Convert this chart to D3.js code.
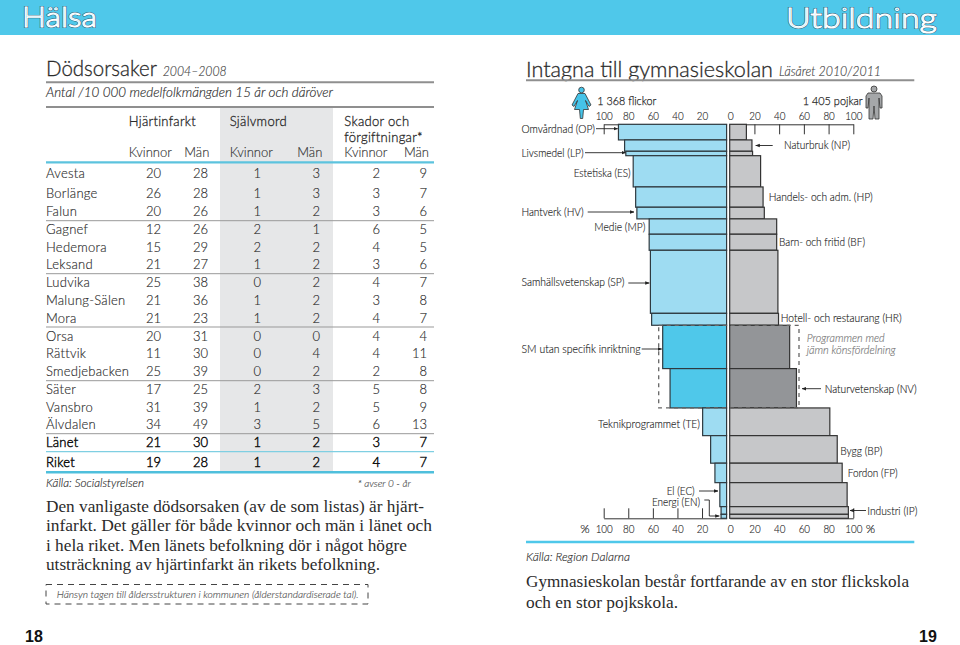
<!DOCTYPE html>
<html><head><meta charset="utf-8">
<script src="https://cdnjs.cloudflare.com/ajax/libs/d3/7.8.5/d3.min.js"></script>
<style>
html,body{margin:0;padding:0;background:#fff}
svg{display:block}
text{font-family:"Lato","Open Sans",sans-serif;fill:#2b2b2b;font-weight:300}
</style></head><body><div id="c"></div>
<script>
// ---- Table data
const rowNames = ["Avesta","Borlänge","Falun","Gagnef","Hedemora","Leksand","Ludvika","Malung-Sälen","Mora","Orsa","Rättvik","Smedjebacken","Säter","Vansbro","Älvdalen","Länet","Riket"];
const heartWomen = [20,26,20,12,15,21,25,21,21,20,11,25,17,31,34,21,19];
const heartMen   = [28,28,26,26,29,27,38,36,23,31,30,39,25,39,49,30,28];
const suicideWomen = [1,1,1,2,2,1,0,1,1,0,0,0,2,1,3,1,1];
const suicideMen   = [3,3,2,1,2,2,2,2,2,0,4,2,3,2,5,2,2];
const injuryWomen = [2,3,3,6,4,3,4,3,4,4,4,2,5,5,6,3,4];
const injuryMen   = [9,7,6,5,5,6,7,8,7,4,11,8,8,9,13,7,7];
// ---- Pyramid data: programme code, students (bar thickness), % girls, % boys
const programmes = ["OP","NP","LP","ES","HP","HV","MP","BF","SP","HR","SM","NV","TE","BP","FP","EC","IP","EN"];
const students   = [110,80,31,220,143,82,108,113,444,84,305,277,195,194,137,169,54,28];
const girlsPct   = [88,83,82,76,74,73,63,63,62,61,52,46,19.5,13,9.5,5.5,4.5,4.5];
const boysPct    = [13.5,18,18.5,25,27,28,38,38,39,39.5,48.5,54,81,87,91,95,96,96];
const balanced   = ["SM","NV"];
const axisTicks  = [20,40,60,80,100];

const W=960,H=645;
const svg=d3.select("#c").append("svg").attr("width",W).attr("height",H);
function txt(x,y,s,o={}){
  const t=svg.append("text").attr("x",x).attr("y",y).text(s)
   .style("font-size",(o.size||12)+"px");
  if(o.italic)t.style("font-style","italic");
  if(o.weight)t.style("font-weight",o.weight);
  if(o.fam)t.style("font-family",o.fam);
  if(o.fill)t.style("fill",o.fill);
  if(o.anchor)t.attr("text-anchor",o.anchor);
  if(o.ls)t.style("letter-spacing",o.ls+"px");
  if(o.len)t.attr("textLength",o.len).attr("lengthAdjust","spacingAndGlyphs");
  if(!o.fam)t.style("stroke",o.fill||"#2b2b2b").style("stroke-width",(o.ink||0.15)+"px");
  return t;
}
function rule(x1,x2,y,c,w){svg.append("line").attr("x1",x1).attr("x2",x2).attr("y1",y).attr("y2",y).attr("stroke",c).attr("stroke-width",w);}

// ---- Top band
svg.append("rect").attr("width",W).attr("height",35).attr("fill","#4fc8ea");
[["Hälsa",22,27,75],["Utbildning",786,28,151]].forEach(d=>{
  [["#2c5f78",2],["#fff",1]].forEach(s=>{
    svg.append("text").attr("x",d[1]).attr("y",d[2]).text(d[0]).attr("textLength",d[3]).attr("lengthAdjust","spacingAndGlyphs")
     .style("font-size","27px").style("font-family","Lato,sans-serif").style("font-weight",300)
     .style("fill","#4fc8ea").attr("stroke",s[0]).attr("stroke-width",s[1]);
  });
});

// ---- Left page
const lft=46,lr=434;
txt(lft,76,"Dödsorsaker",{size:21,len:111,ink:.3});
txt(162.7,76,"2004–2008",{size:13,italic:true,fill:"#444",len:64});
rule(lft,lr,82.3,"#8f8f8f",2);
txt(lft,96.5,"Antal /10 000 medelfolkmängden 15 år och däröver",{size:13.5,italic:true,len:287});
rule(lft,lr,107,"#8f8f8f",2);
const colRight=[161,208,261,320,380,427];
const rowY=d3.scaleOrdinal().domain(rowNames).range([173,193,211,229,247,264,282,300,318,336,353,371,389,407,424,442,462]);
svg.append("rect").attr("x",220).attr("y",108).attr("width",113).attr("height",364).attr("fill","#e6e7e8");
txt(128.7,126,"Hjärtinfarkt",{size:13,ls:.3,ink:.3});
txt(229.7,126,"Självmord",{size:13,ls:.3,ink:.3});
txt(344.3,126,"Skador och",{size:13,ls:.3,ink:.3});
txt(344.3,141.5,"förgiftningar*",{size:13,ls:.3,ink:.3});
[["Kvinnor",128.7],["Män",184.3],["Kvinnor",229.7],["Män",297.3],["Kvinnor",344.3],["Män",404]].forEach(d=>txt(d[1],157,d[0],{size:13,fill:"#333"}));
rule(lft,lr,162.3,"#5cc3de",2.2);
[220.7,273.7,327,380.7,433.7].forEach(y=>rule(lft,lr,y,"#999",1));
rule(lft,lr,451.7,"#7fcfe2",1.2);
rule(lft,lr,472.3,"#4fbfdc",2.4);
const cols=[heartWomen,heartMen,suicideWomen,suicideMen,injuryWomen,injuryMen];
rowNames.forEach((n,i)=>{
  const y=rowY(n)+4.5, strong=i>=15, o={size:13,fill:strong?"#111":"#2b2b2b",ink:strong?.45:.15};
  txt(lft,y,n,{...o,ls:.25});
  cols.forEach((c,j)=>txt(colRight[j],y,c[i],{...o,anchor:"end"}));
});
txt(lft,487,"Källa: Socialstyrelsen",{size:12,italic:true,len:98});
txt(357.7,487,"* avser 0 - år",{size:10,italic:true,fill:"#555",len:53});
const serif="'Liberation Serif',serif";
[["Den vanligaste dödsorsaken (av de som listas) är hjärt-",378],
 ["infarkt. Det gäller för både kvinnor och män i länet och",386],
 ["i hela riket. Men länets befolkning dör i något högre",361],
 ["utsträckning av hjärtinfarkt än rikets befolkning.",334]].forEach((d,i)=>
  txt(lft,512+i*19.3,d[0],{size:17,fam:serif,len:d[1],weight:400}));
svg.append("rect").attr("x",46).attr("y",584.5).attr("width",322).attr("height",19.5).attr("fill","none").attr("stroke","#444").attr("stroke-width",1).attr("stroke-dasharray","6 5");
txt(56.7,597.5,"Hänsyn tagen till åldersstrukturen i kommunen (ålderstandardiserade tal).",{size:10.5,italic:true,fill:"#555",len:302});
txt(25,642,"18",{size:16,weight:700,fam:"'Liberation Sans',sans-serif",fill:"#111"});
txt(919,642,"19",{size:16,weight:700,fam:"'Liberation Sans',sans-serif",fill:"#111"});

// ---- Right page
const rl=526,rr=914.3;
txt(rl,76.5,"Intagna till gymnasieskolan",{size:21,len:247,ink:.3});
txt(779,76,"Läsåret 2010/2011",{size:13,italic:true,fill:"#444",len:102});
rule(rl,rr,80.3,"#8f8f8f",2);
rule(rl,rr,542,"#4fc8ea",2.6);
txt(rl,561,"Källa: Region Dalarna",{size:12,italic:true});
txt(rl,587,"Gymnasieskolan består fortfarande av en stor flickskola",{size:17,fam:serif,len:383,weight:400});
txt(rl,608,"och en stor pojkskola.",{size:17,fam:serif,len:152,weight:400});

// ---- Pyramid
const total=d3.sum(students);
const yS=d3.scaleLinear().domain([0,total]).range([124.3,518.3]);
const xL=d3.scaleLinear().domain([0,100]).range([726.6,603.7]);
const xR=d3.scaleLinear().domain([0,100]).range([729.7,853.3]);
const cum=d3.cumsum(students);
const rows=programmes.map((p,i)=>({p,start:i?cum[i-1]:0,end:cum[i],g:girlsPct[i],b:boysPct[i]}));

function axis(gen,y,ty){
  const g=svg.append("g").attr("transform",`translate(0,${y})`).call(gen);
  g.selectAll("text").style("font-size","12px").style("fill","#222").style("font-family","Lato").style("font-weight",300)
   .style("stroke","#222").style("stroke-width","0.15px")
   .attr("y",ty).attr("dy",0).attr("lengthAdjust","spacingAndGlyphs").attr("textLength",function(){return this.textContent.length*5.7;});
  g.selectAll("line,path").attr("stroke","#333").attr("stroke-width",1);
  return g;
}
const tf=d3.format("d");
axis(d3.axisTop(xL).tickValues(axisTicks).tickFormat(tf).tickSizeInner(-10).tickSizeOuter(0),124.3,-4.3);
axis(d3.axisTop(xR).tickValues(axisTicks).tickFormat(tf).tickSizeInner(-10).tickSizeOuter(0),124.3,-4.3);
axis(d3.axisBottom(xL).tickValues(axisTicks).tickFormat(tf).tickSizeInner(-10).tickSizeOuter(0),518.3,15);
axis(d3.axisBottom(xR).tickValues(axisTicks).tickFormat(tf).tickSizeInner(-10).tickSizeOuter(0),518.3,15);
txt(730.7,120,"0",{size:12,anchor:"middle",fill:"#222",len:6});
txt(730.7,533.3,"0",{size:12,anchor:"middle",fill:"#222",len:6});
txt(585,533.3,"%",{size:12,anchor:"middle",fill:"#222"});
txt(870.5,533.3,"%",{size:12,anchor:"middle",fill:"#222"});

const isBal=d=>balanced.includes(d.p);
svg.append("g").selectAll("rect").data(rows).join("rect")
  .attr("x",d=>xL(d.g)).attr("y",d=>yS(d.start)).attr("width",d=>xL(0)-xL(d.g)).attr("height",d=>yS(d.end)-yS(d.start))
  .attr("fill",d=>isBal(d)?"#4fc8ea":"#9edcf2").attr("stroke","#2f3a40").attr("stroke-width",1.2);
svg.append("g").selectAll("rect").data(rows).join("rect")
  .attr("x",xR(0)).attr("y",d=>yS(d.start)).attr("width",d=>xR(d.b)-xR(0)).attr("height",d=>yS(d.end)-yS(d.start))
  .attr("fill",d=>isBal(d)?"#939598":"#c6c7c9").attr("stroke","#333").attr("stroke-width",1.2);
// dashed frame round the balanced programmes
const bal=rows.filter(isBal);
svg.append("rect").attr("x",658.7).attr("y",yS(bal[0].start)).attr("width",140.3).attr("height",yS(bal[1].end)-yS(bal[0].start))
  .attr("fill","none").attr("stroke","#666").attr("stroke-width",1.3).attr("stroke-dasharray","4 4");

// arrow leaders
const defs=svg.append("defs");
defs.append("marker").attr("id","ah").attr("viewBox","0 0 6 6").attr("refX",5.5).attr("refY",3).attr("markerWidth",5).attr("markerHeight",5).attr("orient","auto")
  .append("path").attr("d","M0,0.6L6,3L0,5.4Z").attr("fill","#222");
function leader(pts){
  svg.append("path").attr("d",d3.line()(pts)).attr("fill","none").attr("stroke","#222").attr("stroke-width",0.9).attr("marker-end","url(#ah)");
}
leader([[596,128.7],[617.7,128.7]]);
leader([[585,152.7],[625.7,152.7]]);
leader([[772.7,145.5],[755.7,145.5]]);
leader([[587.7,212],[634,212]]);
leader([[628.3,283],[649.3,283]]);
leader([[641.7,349],[661.7,349]]);
leader([[821,388.7],[802,388.7]]);
leader([[699,491],[718,491]]);
leader([[704.3,500],[709.3,500],[709.3,516],[719.3,516]]);
leader([[866,510.5],[850,510.5]]);

const labels=[
 ["Omvårdnad (OP)",521.5,128.7,73.5],["Livsmedel (LP)",521.5,152.7,62],["Naturbruk (NP)",784,145.3,66],
 ["Estetiska (ES)",573.7,172.7,57],["Handels- och adm. (HP)",768.7,196.7,104],["Hantverk (HV)",521.5,212,62],
 ["Medie (MP)",594.3,227,51],["Barn- och fritid (BF)",779,242.3,86],["Samhällsvetenskap (SP)",521.5,281.7,103],
 ["Hotell- och restaurang (HR)",780.7,318,121],["SM utan specifik inriktning",521.5,349,119],
 ["Naturvetenskap (NV)",824.7,388.7,92],["Teknikprogrammet (TE)",598,423.7,102],["Bygg (BP)",840.3,451.3,42],
 ["Fordon (FP)",847.7,473.3,50],["El (EC)",666.7,491,28],["Energi (EN)",652,502.3,48],["Industri (IP)",867.3,510.7,50]];
labels.forEach(d=>txt(d[1],d[2]+4,d[0],{size:11.5,fill:"#222",len:d[3]}));
txt(806.7,342,"Programmen med",{size:11,italic:true,fill:"#777",len:78});
txt(806.7,354,"jämn könsfördelning",{size:11,italic:true,fill:"#777",len:89});
txt(597.3,105,"1 368 flickor",{size:12.5,fill:"#222",len:59,ink:.25});
txt(802.7,105,"1 405 pojkar",{size:12.5,fill:"#222",len:60,ink:.25});

// icons
const woman=svg.append("g").attr("fill","#45c3e8").attr("stroke","#333").attr("stroke-width",.8);
woman.append("circle").attr("cx",581.5).attr("cy",90).attr("r",2.8);
woman.append("path").attr("d","M578,93.5L585,93.5L591,105L589,106.5L585.5,100.5L588.5,109.5L583.5,109.5L582.7,118.5L580.3,118.5L579.5,109.5L574.5,109.5L577.5,100.5L574,106.5L572,105Z");
const man=svg.append("g").attr("fill","#a5a7a9").attr("stroke","#333").attr("stroke-width",.8);
man.append("circle").attr("cx",874).attr("cy",89).attr("r",3);
man.append("path").attr("d","M868,93L880,93L882,96L882,108L880,108L879,98L879,119L875,119L874,106L873,119L869,119L869,98L868,108L866,108L866,96Z");
</script></body></html>
